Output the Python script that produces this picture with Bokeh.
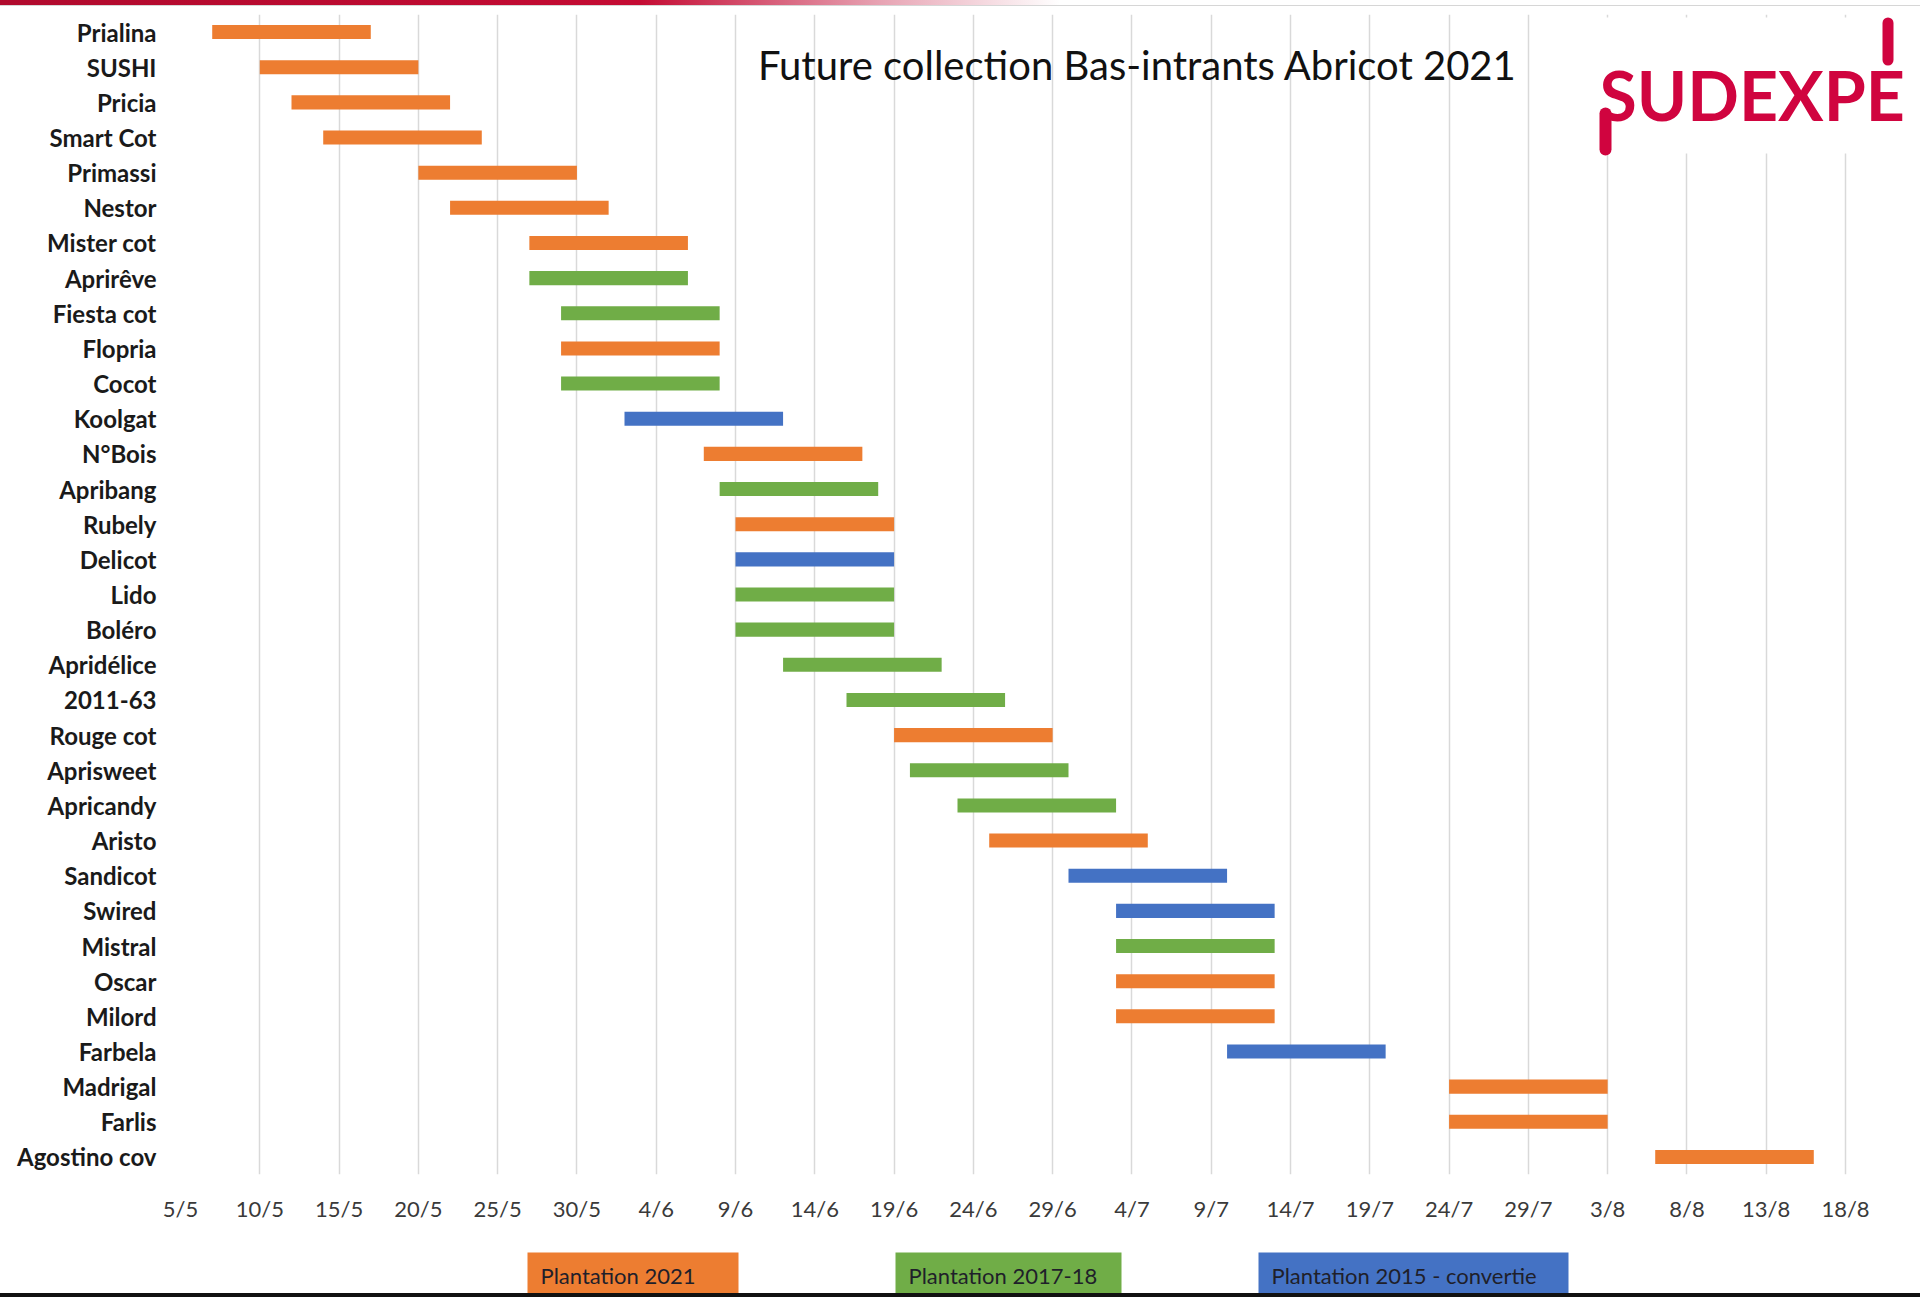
from datetime import datetime, timedelta
from bokeh.plotting import figure
from bokeh.layouts import column
from bokeh.models import (ColumnDataSource, FactorRange, Range1d, FixedTicker,
                          Label, BoxAnnotation, Div)
from bokeh.core.properties import value
from bokeh.embed import file_html
from bokeh.resources import INLINE

# ---------------- data ----------------
YEAR = 2021
varieties = ["Prialina", "SUSHI", "Pricia", "Smart Cot", "Primassi", "Nestor",
             "Mister cot", "Aprirêve", "Fiesta cot", "Flopria", "Cocot", "Koolgat",
             "N°Bois", "Apribang", "Rubely", "Delicot", "Lido", "Boléro",
             "Apridélice", "2011-63", "Rouge cot", "Aprisweet", "Apricandy",
             "Aristo", "Sandicot", "Swired", "Mistral", "Oscar", "Milord",
             "Farbela", "Madrigal", "Farlis", "Agostino cov"]
starts = ["7/5", "10/5", "12/5", "14/5", "20/5", "22/5", "27/5", "27/5", "29/5",
          "29/5", "29/5", "2/6", "7/6", "8/6", "9/6", "9/6", "9/6", "9/6", "12/6",
          "16/6", "19/6", "20/6", "23/6", "25/6", "30/6", "3/7", "3/7", "3/7",
          "3/7", "10/7", "24/7", "24/7", "6/8"]
ends = ["17/5", "20/5", "22/5", "24/5", "30/5", "1/6", "6/6", "6/6", "8/6",
        "8/6", "8/6", "12/6", "17/6", "18/6", "19/6", "19/6", "19/6", "19/6",
        "22/6", "26/6", "29/6", "30/6", "3/7", "5/7", "10/7", "13/7", "13/7",
        "13/7", "13/7", "20/7", "3/8", "3/8", "16/8"]
plantation = ["2021", "2021", "2021", "2021", "2021", "2021", "2021", "2017-18",
              "2017-18", "2021", "2017-18", "2015", "2021", "2017-18", "2021",
              "2015", "2017-18", "2017-18", "2017-18", "2017-18", "2021",
              "2017-18", "2017-18", "2021", "2015", "2015", "2017-18", "2021",
              "2021", "2015", "2021", "2021", "2021"]
groups = ["2021", "2017-18", "2015"]
group_labels = ["Plantation 2021", "Plantation 2017-18", "Plantation 2015 - convertie"]
group_colors = ["#ED7D31", "#70AD47", "#4472C4"]
tick_labels = ["5/5", "10/5", "15/5", "20/5", "25/5", "30/5", "4/6", "9/6", "14/6",
               "19/6", "24/6", "29/6", "4/7", "9/7", "14/7", "19/7", "24/7", "29/7",
               "3/8", "8/8", "13/8", "18/8"]
title_text = "Future collection Bas-intrants Abricot 2021"
logo_text = "SUDEXPE"


def parse(s):
    d, m = s.split("/")
    return datetime(YEAR, int(m), int(d))


def to_ms(dt):
    return int((dt - datetime(1970, 1, 1)).total_seconds() * 1000)


color_of = dict(zip(groups, group_colors))
src = ColumnDataSource(dict(
    y=varieties,
    left=[parse(s) for s in starts],
    right=[parse(s) for s in ends],
    color=[color_of[g] for g in plantation],
))

# ---------------- layout ----------------
W = 1920
TOP_H, MAIN_H, LEG_H, BOT_H = 6, 1234, 53, 4
BL, BT, BB = 180, 8, 66
frame_w = W - BL
tick_dates = [parse(t) for t in tick_labels]
span_days = (tick_dates[-1] - tick_dates[0]).days
grid_span_px = 1665                      # pixels between first and last gridline
x_end = tick_dates[0] + timedelta(days=span_days * frame_w / grid_span_px)

# --- decorative slide border at the very top ---
top = Div(text="", width=W, height=TOP_H, styles={
    "background": "linear-gradient(to right, #B00A2D 0px, #C40B33 640px, "
                  "#E7A3B3 880px, #FFFFFF 1060px)",
    "border-bottom": "1px solid #D6D6D6", "box-sizing": "border-box",
    "margin": "0", "padding": "0", "overflow": "hidden"})

# --- main chart ---
p = figure(width=W, height=MAIN_H, output_backend="svg", toolbar_location=None,
           x_axis_type="datetime",
           x_range=Range1d(tick_dates[0], x_end),
           y_range=FactorRange(factors=varieties[::-1], range_padding=0),
           min_border_left=BL, min_border_right=0, min_border_top=BT,
           min_border_bottom=BB)
p.outline_line_color = None
p.background_fill_color = "white"
p.border_fill_color = "white"

p.hbar(y="y", left="left", right="right", height=0.4, color="color",
       line_color=None, source=src)

tick_ms = [to_ms(d) for d in tick_dates]
p.xaxis.ticker = FixedTicker(ticks=tick_ms)
p.xaxis.major_label_overrides = {t: lab for t, lab in zip(tick_ms, tick_labels)}
for ax in (p.xaxis[0], p.yaxis[0]):
    ax.axis_line_color = None
    ax.major_tick_line_color = None
    ax.minor_tick_line_color = None
    ax.major_tick_out = 0
    ax.major_tick_in = 0
p.xaxis.major_label_standoff = 20
p.yaxis.major_label_standoff = 24

p.xaxis.major_label_text_font = "Lato"
p.xaxis.major_label_text_font_size = "22px"
p.xaxis.major_label_text_color = "#3a3a3a"
p.yaxis.major_label_text_font = "Lato"
p.yaxis.major_label_text_font_style = "bold"
p.yaxis.major_label_text_font_size = "24px"
p.yaxis.major_label_text_color = "#1a1a1a"

p.xgrid.grid_line_color = "#D9D9D9"
p.xgrid.grid_line_width = 1.5
p.ygrid.grid_line_color = None

# frame-relative screen coordinates (frame left = page x 180, frame bottom = page y 1174)
FX, FY = 180, 1174

p.add_layout(Label(x=1137 - FX, y=FY - 64, x_units="screen", y_units="screen",
                   text=title_text, text_align="center", text_baseline="middle",
                   text_font="Lato", text_font_size="40px", text_color="#111111"))

# logo with its white background
p.add_layout(BoxAnnotation(left=1590 - FX, right=frame_w, bottom=FY - 153, top=FY - 17,
                           left_units="screen", right_units="screen",
                           top_units="screen", bottom_units="screen",
                           fill_color="white", fill_alpha=1.0, line_color=None))
logo_red = "#D0043F"
p.add_layout(Label(x=1599 - FX, y=FY - 94, x_units="screen", y_units="screen",
                   text=logo_text, text_align="left", text_baseline="middle",
                   text_font="Lato", text_font_style="bold", text_font_size="68px",
                   text_color=logo_red))
for l, r, t, b in [(1882, 1893, 17, 65), (1599, 1611, 107, 155)]:
    p.add_layout(BoxAnnotation(left=l - FX, right=r - FX, bottom=FY - b, top=FY - t,
                               left_units="screen", right_units="screen",
                               top_units="screen", bottom_units="screen",
                               fill_color=logo_red, fill_alpha=1.0, line_color=None,
                               border_radius=6))

# --- legend strip below the chart (x in page pixels, frame starts at page x 180) ---
leg = figure(width=W, height=LEG_H, output_backend="svg", toolbar_location=None,
             x_range=Range1d(BL, W), y_range=Range1d(LEG_H, 0),
             min_border_left=BL, min_border_right=0, min_border_top=0,
             min_border_bottom=0)
leg.axis.visible = False
leg.grid.visible = False
leg.outline_line_color = None
box_left = [527, 895, 1258]
box_right = [738, 1121, 1568]
leg.quad(left=box_left, right=box_right, top=[12] * 3, bottom=[LEG_H] * 3,
         color=group_colors, line_color=None)
leg.text(x=[l + 13 for l in box_left], y=[35] * 3, text=group_labels,
         text_font=value("Lato"), text_font_size="22px", text_baseline="middle",
         text_align="left", text_color="#1f1f2a")

# --- dark screenshot border at the bottom ---
bottom = Div(text="", width=W, height=BOT_H, styles={
    "background": "#111111", "margin": "0", "padding": "0", "overflow": "hidden"})

layout = column(top, p, leg, bottom, spacing=0)
open("out.html", "w").write(file_html(layout, INLINE))
